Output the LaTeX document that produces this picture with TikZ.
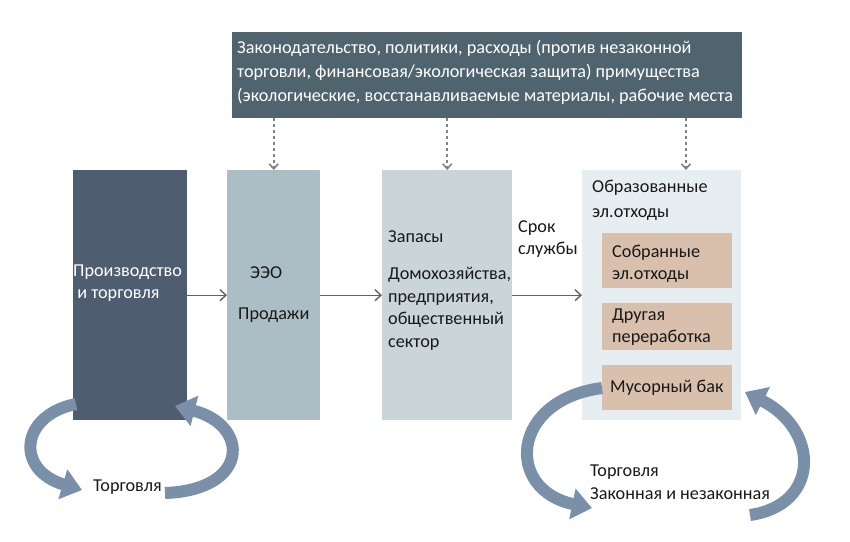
\documentclass[tikz,border=0pt]{standalone}
\usepackage{fontspec}
\setmainfont{Carlito}
\usetikzlibrary{arrows.meta}
\definecolor{topc}{HTML}{50646F}
\definecolor{prodc}{HTML}{4F5D70}
\definecolor{eeoc}{HTML}{ABBEC6}
\definecolor{zapc}{HTML}{C9D5D9}
\definecolor{genc}{HTML}{E7EEF1}
\definecolor{tanc}{HTML}{D8C0AC}
\definecolor{linec}{HTML}{5E6367}
\definecolor{ribc}{HTML}{7A8FA8}
\tikzset{
  box/.style={draw=none, anchor=north west, inner sep=0pt},
  txt/.style={anchor=west, align=left, inner sep=0pt, font=\fontsize{18.2}{22.5}\selectfont, text=black!90},
  conn/.style={draw=linec, line width=1.4pt, -{Straight Barb[length=6pt,width=11pt,line width=1.4pt]}},
  dashconn/.style={draw=linec!80, line width=1.6pt, dash pattern=on 3pt off 3pt, -{Straight Barb[length=5pt,width=9pt,line width=1.6pt]}},
  ribbon/.style={draw=ribc, line width=12pt, -{Triangle[length=20pt,width=30pt]}}
}
\begin{document}
\begin{tikzpicture}[x=1pt,y=-1pt]
\useasboundingbox (0,0) rectangle (850,541);
% top box
\node[box, fill=topc, minimum width=510pt, minimum height=86pt] (top) at (232,32) {};
\node[txt, text=white, font=\fontsize{18.2}{24}\selectfont] (toptxt) at (237,72)
 {Законодательство, политики, расходы (против незаконной\\торговли, финансовая/экологическая защита) примущества\\(экологические, восстанавливаемые материалы, рабочие места};
% main boxes
\node[box, fill=prodc, minimum width=114pt, minimum height=250pt] (prod) at (73,170) {};
\node[box, fill=eeoc, minimum width=93pt, minimum height=250pt] (eeo) at (227,170) {};
\node[box, fill=zapc, minimum width=130pt, minimum height=250pt] (zap) at (382,170) {};
\node[box, fill=genc, minimum width=159pt, minimum height=250pt] (gen) at (582,170) {};
% inner boxes
\node[box, fill=tanc, minimum width=130pt, minimum height=55pt] (col) at (602,233) {};
\node[box, fill=tanc, minimum width=130pt, minimum height=47pt] (oth) at (602,303) {};
\node[box, fill=tanc, minimum width=130pt, minimum height=45pt] (bin) at (602,365) {};
% texts
\node[txt, text=white] (prodtxt) at (73,283) {Производство\\\ и торговля};
\node[txt] (eeotxt) at (250,273) {ЭЭО};
\node[txt] (saletxt) at (238,315) {Продажи};
\node[txt] (zaptxt) at (388,237) {Запасы};
\node[txt] (hhtxt) at (388,309) {Домохозяйства,\\предприятия,\\общественный\\сектор};
\node[txt] (lifetxt) at (518,239) {Срок\\службы};
\node[txt, font=\fontsize{18.2}{25}\selectfont] (gentxt) at (592,200) {Образованные\\эл.отходы};
\node[txt] (coltxt) at (612,264) {Собранные\\эл.отходы};
\node[txt] (othtxt) at (612,327) {Другая\\переработка};
\node[txt] (bintxt) at (610,388) {Мусорный бак};
\node[txt] (trade1) at (93,487) {Торговля};
\node[txt] (trade2) at (590,482) {Торговля\\Законная и незаконная};
% connectors
\draw[conn] (prod.east) -- (eeo.west);
\draw[conn] (eeo.east) -- (zap.west);
\draw[conn] (zap.east) -- (gen.west);
\draw[dashconn] (top.south -| eeo.north) -- (eeo.north);
\draw[dashconn] (top.south -| zap.north) -- (zap.north);
\coordinate (gtop) at (686,170);
\draw[dashconn] (top.south -| gtop) -- (gtop);
% ribbon arrows left
\coordinate (la1) at (76,404);
\coordinate (la2) at (82,490);
\coordinate (lb1) at (165,493);
\coordinate (lb2) at (175,406);
\draw[ribbon] (la1) .. controls (20,415) and (15,470) .. (la2);
\draw[ribbon] (lb1) .. controls (250,490) and (250,425) .. (lb2);
% ribbon arrows right
\coordinate (ra1) at (602,388);
\coordinate (ra2) at (592,508);
\coordinate (rb1) at (750,515);
\coordinate (rb2) at (745,392);
\draw[ribbon] (ra1) .. controls (510,400) and (505,490) .. (ra2);
\draw[ribbon] (rb1) .. controls (820,505) and (820,430) .. (rb2);
\end{tikzpicture}
\end{document}
